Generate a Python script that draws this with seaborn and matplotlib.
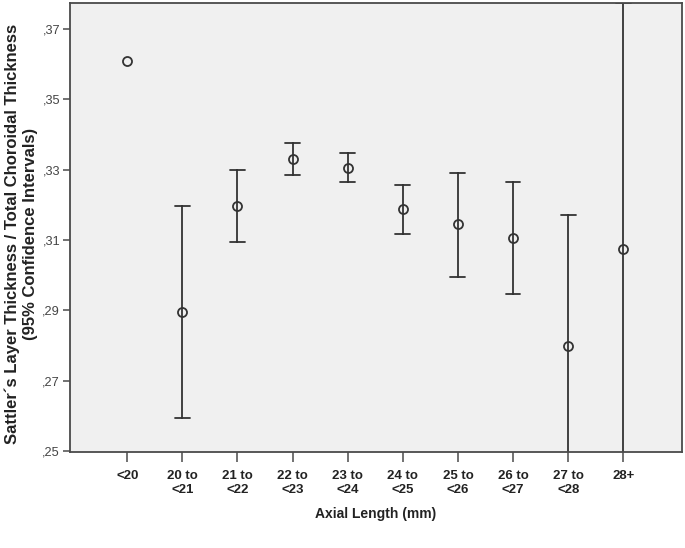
import numpy as np
import pandas as pd
import matplotlib
matplotlib.use("Agg")
import matplotlib.pyplot as plt
import seaborn as sns
from matplotlib.ticker import FuncFormatter

# values (mean ratio and 95% CI per axial length group)
categories = ["<20", "20 to\n<21", "21 to\n<22", "22 to\n<23", "23 to\n<24",
              "24 to\n<25", "25 to\n<26", "26 to\n<27", "27 to\n<28", "28+"]
means = [0.3609, 0.2895, 0.3197, 0.3330, 0.3305, 0.3188, 0.3145, 0.3106, 0.2799, 0.3074]
lower = [np.nan, 0.2594, 0.3094, 0.3285, 0.3265, 0.3117, 0.2995, 0.2947, 0.2300, 0.2300]
upper = [np.nan, 0.3197, 0.3299, 0.3376, 0.3347, 0.3256, 0.3291, 0.3265, 0.3171, 0.3774]

# long table: median of (lower, mean, upper) = mean, 100% interval = CI
df = pd.DataFrame({
    "group": categories * 3,
    "value": lower + means + upper,
}).dropna()

sns.set_style("ticks")
plt.rcParams["font.family"] = ["Liberation Sans", "DejaVu Sans"]

fig = plt.figure(figsize=(6.85, 5.48), dpi=100)
ax = fig.add_axes([0.102, 0.175, 0.894, 0.820])
ax.set_facecolor("#f0f0f0")

sns.pointplot(data=df, x="group", y="value", order=categories,
              estimator="median", errorbar=("pi", 100),
              color="#333333", linestyle="none", marker="o",
              markersize=6.5, markerfacecolor="none", markeredgewidth=1.3,
              capsize=0.27, err_kws={"linewidth": 1.3}, ax=ax)

ax.set_ylim(0.2497, 0.3774)
ax.set_xlim(-1.04, 10.07)
ax.set_yticks([0.25, 0.27, 0.29, 0.31, 0.33, 0.35, 0.37])
ax.yaxis.set_major_formatter(FuncFormatter(lambda v, p: ("%.2f" % v)[1:].replace(".", ",")))

for s in ax.spines.values():
    s.set_color("#4a4a4a")
    s.set_linewidth(1.3)
    s.set_visible(True)

ax.tick_params(axis="x", length=7, width=1.1, color="#4a4a4a", pad=6,
               labelsize=9.5, labelcolor="#222222")
ax.tick_params(axis="y", length=5, width=1.1, color="#4a4a4a", pad=2,
               labelsize=9.2, labelcolor="#444444")
for lab in ax.get_xticklabels():
    lab.set_fontweight("bold")

ax.set_xlabel("Axial Length (mm)", fontsize=10, fontweight="bold", labelpad=8,
              color="#222222")
ax.set_ylabel("Sattler´s Layer Thickness / Total Choroidal Thickness\n(95% Confidence Intervals)",
              fontsize=12, fontweight="bold", color="#222222",
              linespacing=1.25)
ax.yaxis.set_label_coords(-0.052, 0.485)

fig.savefig("out.png", dpi=100)
